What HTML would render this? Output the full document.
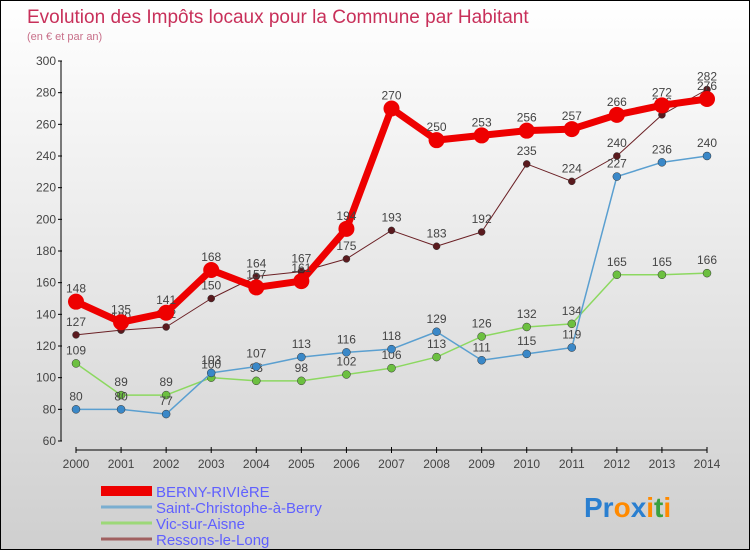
<!DOCTYPE html>
<html><head><meta charset="utf-8"><style>
body{margin:0}
#c{width:748px;height:548px;border:1px solid #000;background:linear-gradient(#fff,#ececec 40%,#cfcfcf);position:relative;overflow:hidden;font-family:"Liberation Sans",sans-serif}
</style></head><body>
<div id="c">
<svg id="s" width="748" height="548">
<text x="26" y="22" font-size="19" fill="#c8305a">Evolution des Impôts locaux pour la Commune par Habitant</text>
<text x="26" y="39" font-size="11" fill="#c8708a">(en € et par an)</text>
<g id="ax"></g><g id="series"></g><g id="lg"></g>
<text x="583" y="516" font-size="28" font-weight="bold"><tspan fill="#2a7fd0">Pr</tspan><tspan fill="#ff8a00">o</tspan><tspan fill="#2a7fd0">x</tspan><tspan fill="#ff8a00">i</tspan><tspan fill="#3aa040">t</tspan><tspan fill="#ff8a00">i</tspan></text>
</svg></div>
<script>
const years=[2000,2001,2002,2003,2004,2005,2006,2007,2008,2009,2010,2011,2012,2013,2014];
const yTicks=[60,80,100,120,140,160,180,200,220,240,260,280,300];
const seriesNames=["BERNY-RIVIèRE","Saint-Christophe-à-Berry","Vic-sur-Aisne","Ressons-le-Long"];
const berny=[148,135,141,168,157,161,194,270,250,253,256,257,266,272,276];
const stchristophe=[80,80,77,103,107,113,116,118,129,111,115,119,227,236,240];
const vic=[109,89,89,100,98,98,102,106,113,126,132,134,165,165,166];
const ressons=[127,130,132,150,164,167,175,193,183,192,235,224,240,266,282];
const NS="http://www.w3.org/2000/svg";
const X=i=>75+i*(706-75)/(years.length-1);
const Y=v=>440-(v-60)*380/240;
function mk(t,a,p){const e=document.createElementNS(NS,t);for(const k in a)e.setAttribute(k,a[k]);p.appendChild(e);return e;}
const ax=document.getElementById('ax');
let l=mk('line',{x1:60,y1:60,x2:60,y2:440,stroke:'#000'},ax);


yTicks.forEach(v=>{
 mk('line',{x1:57,y1:Y(v),x2:61,y2:Y(v),stroke:'#000'},ax);
 const t=mk('text',{x:55,y:Y(v)+4,'font-size':12,fill:'#444','text-anchor':'end'},ax);t.textContent=v;
 
 
});
l=mk('line',{x1:75,y1:449,x2:706,y2:449,stroke:'#000'},ax);


years.forEach((y,i)=>{
 mk('line',{x1:X(i),y1:446,x2:X(i),y2:452,stroke:'#000'},ax);
 const t=mk('text',{x:X(i),y:467,'font-size':12,fill:'#444','text-anchor':'middle'},ax);t.textContent=y;
 
 
});
const sg=document.getElementById('series');
const defs=[[ressons,'#6b2025','#5a1a1e',1,3.5],[vic,'#8cd860','#6cc040',1.5,4],[stchristophe,'#5a9fd0','#3a88c8',1.5,4],[berny,'#ee0000','#ee0000',7,8]];
const keys=['ressons','vic','saint-christophe','berny'];
defs.forEach(([d,lc,pc,w,r],k)=>{
 const g=mk('g',{},sg);
 
 
 const p=mk('polyline',{points:d.map((v,i)=>X(i)+','+Y(v)).join(' '),fill:'none',stroke:lc,'stroke-width':w,'stroke-linejoin':'round'},g);
 
 
 d.forEach((v,i)=>{
  const c=mk('circle',{cx:X(i),cy:Y(v),r:r,fill:pc,stroke:k==3?'none':'#333','stroke-width':0.5},g);
  
  
  const t=mk('text',{x:X(i),y:Y(v)-9,'font-size':12,fill:'#444','text-anchor':'middle'},g);t.textContent=v;
  
  
 });
});
const lg=document.getElementById('lg');
const lcols=['#ee0000','#7aaed0','#9cd878','#a06060'],lw=[10,3,3,3];
seriesNames.forEach((n,i)=>{
 const y=490+i*16;
 const ln=mk('line',{x1:100,y1:y,x2:151,y2:y,stroke:lcols[i],'stroke-width':lw[i]},lg);
 
 
 const t=mk('text',{x:155,y:y+6,'font-size':15,fill:'#6060ff'},lg);t.textContent=n;
 
 
});
</script>
</body></html>
